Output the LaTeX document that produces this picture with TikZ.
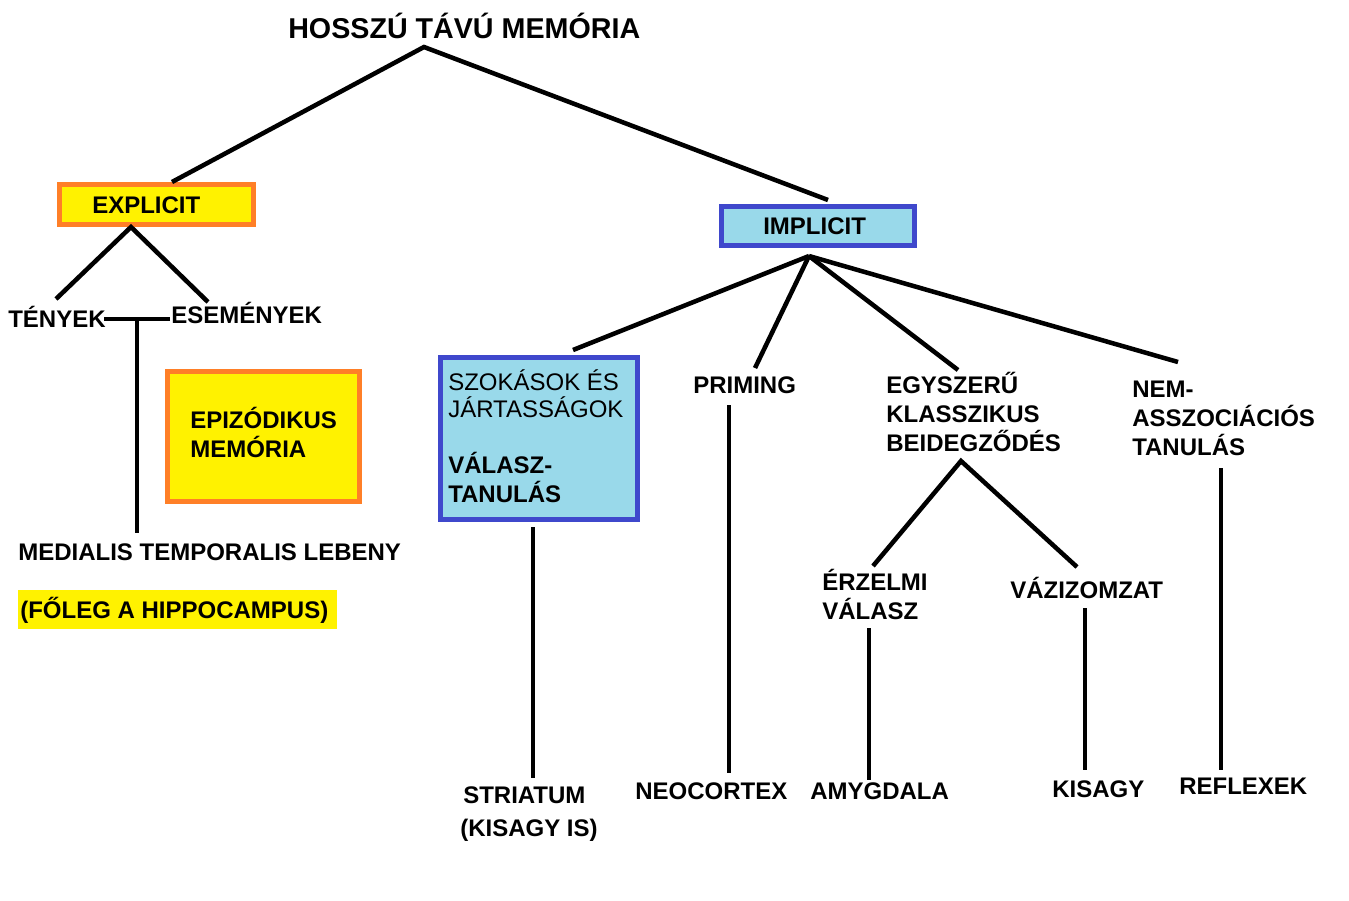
\documentclass[tikz,border=0pt]{standalone}
\usepackage{fontspec}
\setmainfont{Liberation Sans}
\definecolor{pyellow}{HTML}{FFF200}
\definecolor{porange}{HTML}{FF7F27}
\definecolor{pblue}{HTML}{3F48CC}
\definecolor{plblue}{HTML}{99D9EA}
\begin{document}
\begin{tikzpicture}[x=0.75pt,y=-0.75pt,
 lbl/.style={font=\fontsize{18}{22}\selectfont\bfseries, inner sep=0pt, anchor=base west},
 rlbl/.style={font=\fontsize{18}{22}\selectfont, inner sep=0pt, anchor=base west},
 conn/.style={line width=3.4pt},
 ybox/.style={draw=porange, fill=pyellow, line width=3.75pt, inner sep=0pt},
 bbox/.style={draw=pblue, fill=plblue, line width=3.75pt, inner sep=0pt}]
\useasboundingbox (0,0) rectangle (1349,900);

% boxes
\node[ybox, minimum width=145.5pt, minimum height=30pt] (explicitbox) at (156.5,204.5) {};
\node[ybox, minimum width=144pt, minimum height=97.5pt] (epibox) at (263.5,436.5) {};
\node[bbox, minimum width=144.75pt, minimum height=29pt] (implicitbox) at (818,226) {};
\node[bbox, minimum width=147.75pt, minimum height=121.5pt] (szokbox) at (539,438.5) {};
\node[fill=pyellow, inner sep=0pt, minimum width=239.25pt, minimum height=29.25pt] (hlbox) at (177.5,609.5) {};

% texts
\node[lbl, font=\fontsize{21.5}{26}\selectfont\bfseries] (title) at (288,38) {HOSSZÚ TÁVÚ MEMÓRIA};
\node[lbl] (explicit) at (92,213) {EXPLICIT};
\node[lbl] (tenyek) at (8,327) {TÉNYEK};
\node[lbl] (esemenyek) at (171,323) {ESEMÉNYEK};
\node[lbl] (epi1) at (190,428) {EPIZÓDIKUS};
\node[lbl] (epi2) at (190,457) {MEMÓRIA};
\node[lbl] (medialis) at (18,560) {MEDIALIS TEMPORALIS LEBENY};
\node[lbl] (foleg) at (20,618) {(FŐLEG A HIPPOCAMPUS)};

\node[lbl] (implicit) at (763,234) {IMPLICIT};
\node[rlbl] (szok1) at (448,390) {SZOKÁSOK ÉS};
\node[rlbl] (szok2) at (448,417) {JÁRTASSÁGOK};
\node[lbl] (szok3) at (448,473) {VÁLASZ-};
\node[lbl] (szok4) at (448,502) {TANULÁS};
\node[lbl] (priming) at (693,393) {PRIMING};
\node[lbl] (egy1) at (886,393) {EGYSZERŰ};
\node[lbl] (egy2) at (886,422) {KLASSZIKUS};
\node[lbl] (egy3) at (886,451) {BEIDEGZŐDÉS};
\node[lbl] (nem1) at (1132,397) {NEM-};
\node[lbl] (nem2) at (1132,426) {ASSZOCIÁCIÓS};
\node[lbl] (nem3) at (1132,455) {TANULÁS};
\node[lbl] (erz1) at (822,590) {ÉRZELMI};
\node[lbl] (erz2) at (822,619) {VÁLASZ};
\node[lbl] (vaz) at (1010,598) {VÁZIZOMZAT};

\node[lbl] (striatum) at (463,803) {STRIATUM};
\node[lbl] (kisagyis) at (460,836) {(KISAGY IS)};
\node[lbl] (neocortex) at (635,799) {NEOCORTEX};
\node[lbl] (amygdala) at (810,799) {AMYGDALA};
\node[lbl] (kisagy) at (1052,797) {KISAGY};
\node[lbl] (reflexek) at (1179,794) {REFLEXEK};

% connector end points
\coordinate (apex) at (424,47);
\coordinate (exTop) at (172,182);
\coordinate (imTop) at (828,200);
\coordinate (exBot) at (131,227);
\coordinate (tenEnd) at (56,299);
\coordinate (eseEnd) at (208,302);
\coordinate (hL) at (104,319);
\coordinate (hR) at (170,319);
\coordinate (hM) at (137,319);
\coordinate (vEnd) at (137,533);
\coordinate (imBot) at (809,256);
\coordinate (szTop) at (573,350);
\coordinate (prTop) at (755,368);
\coordinate (egTop) at (958,370);
\coordinate (neTop) at (1178,362);
\coordinate (szBot) at (533,527);
\coordinate (stTop) at (533,778);
\coordinate (prBot) at (729,405);
\coordinate (neoTop) at (729,773);
\coordinate (egBot) at (961,461);
\coordinate (erTop) at (873,566);
\coordinate (vaTop) at (1077,567);
\coordinate (erBot) at (869,628);
\coordinate (amTop) at (869,780);
\coordinate (vaBot) at (1085,608);
\coordinate (kiTop) at (1085,770);
\coordinate (neBot) at (1221,468);
\coordinate (reTop) at (1221,770);

\draw[conn] (exTop) -- (apex) -- (imTop);
\draw[conn] (tenEnd) -- (exBot) -- (eseEnd);
\draw[conn] (hL) -- (hR);
\draw[conn] (hM) -- (vEnd);
\draw[conn] (imBot) -- (szTop);
\draw[conn] (imBot) -- (prTop);
\draw[conn] (imBot) -- (egTop);
\draw[conn] (imBot) -- (neTop);
\draw[conn] (szBot) -- (stTop);
\draw[conn] (prBot) -- (neoTop);
\draw[conn] (erTop) -- (egBot) -- (vaTop);
\draw[conn] (erBot) -- (amTop);
\draw[conn] (vaBot) -- (kiTop);
\draw[conn] (neBot) -- (reTop);
\end{tikzpicture}
\end{document}
